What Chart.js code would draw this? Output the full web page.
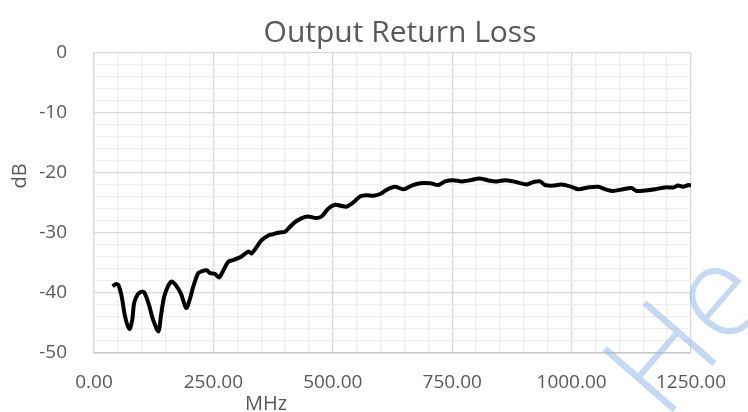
<!DOCTYPE html>
<html>
<head>
<meta charset="utf-8">
<title>Output Return Loss</title>
<script src="https://cdn.jsdelivr.net/npm/chart.js@4.4.1/dist/chart.umd.min.js"></script>
<style>
  html, body { margin: 0; padding: 0; background: #ffffff; }
  #chartBox { width: 748px; height: 412px; }
</style>
</head>
<body>
<div id="chartBox"><canvas id="rlChart" width="748" height="412"></canvas></div>
<script>
'use strict';

let chartTitle = 'Output Return Loss';
let xAxisTitle = 'MHz';
let yAxisTitle = 'dB';
let watermarkText = 'He';

let xTickLabels = [0, 250, 500, 750, 1000, 1250];
let yTickLabels = [0, -10, -20, -30, -40, -50];

// frequency points (MHz)
let freqMHz = [39, 46, 51, 58, 65, 74, 80, 84, 91, 98,
  105, 114, 124, 135, 140, 147, 156, 163, 173, 182,
  193, 200, 208, 218, 225, 236, 243, 253, 262, 271,
  281, 292, 309, 323, 330, 351, 365, 375, 383, 389,
  400, 410, 424, 442, 452, 466, 477, 491, 505, 519,
  529, 543, 557, 571, 585, 599, 613, 630, 648, 665,
  683, 704, 721, 735, 752, 770, 787, 808, 829, 843,
  861, 878, 906, 920, 934, 944, 962, 979, 1000, 1014,
  1035, 1056, 1070, 1087, 1108, 1125, 1136, 1154, 1175, 1196,
  1213, 1223, 1233, 1245, 1250];

// return loss (dB) at each frequency
let returnLossDb = [-38.9, -38.5, -38.7, -40.6, -43.9, -46.0, -44.5, -41.7, -40.3, -39.8,
  -39.9, -41.7, -44.5, -46.4, -43.9, -40.6, -38.7, -38.1, -38.9, -40.1,
  -42.5, -41.2, -38.9, -36.7, -36.4, -36.2, -36.7, -36.8, -37.4, -36.2,
  -34.8, -34.5, -33.9, -33.1, -33.4, -31.2, -30.4, -30.2, -30.0, -29.9,
  -29.8, -29.0, -28.0, -27.3, -27.3, -27.5, -27.2, -25.9, -25.3, -25.5,
  -25.6, -24.9, -23.9, -23.7, -23.8, -23.5, -22.8, -22.3, -22.7, -22.1,
  -21.7, -21.7, -22.0, -21.4, -21.2, -21.4, -21.2, -20.9, -21.3, -21.4,
  -21.2, -21.4, -21.9, -21.5, -21.4, -22.0, -22.1, -21.9, -22.3, -22.7,
  -22.4, -22.3, -22.7, -23.0, -22.7, -22.5, -23.0, -22.9, -22.7, -22.4,
  -22.4, -22.1, -22.3, -22.0, -22.1];

const textGrey = '#595959';
const majorGrid = '#d9d9d9';
const minorGrid = '#eeeeee';

Chart.defaults.font.family = "'Open Sans', sans-serif";
Chart.defaults.color = textGrey;

let points = [];
for (let i = 0; i < freqMHz.length; i++) {
  points.push({ x: freqMHz[i], y: returnLossDb[i] });
}

function isMajorX(v) {
  return xTickLabels.indexOf(v) !== -1;
}

function isMajorY(v) {
  return yTickLabels.indexOf(v) !== -1;
}

// title, axis titles and the faint watermark are drawn by hand
const textPlugin = {
  id: 'textPlugin',
  afterDraw(chart) {
    const ctx = chart.ctx;
    ctx.save();
    ctx.fillStyle = textGrey;
    ctx.textAlign = 'center';
    ctx.textBaseline = 'alphabetic';

    ctx.font = "30px 'Open Sans'";
    ctx.fillText(chartTitle, 400, 42);

    ctx.font = "20px 'Open Sans'";
    ctx.fillText(xAxisTitle, 266, 410);

    ctx.save();
    ctx.translate(26, 176);
    ctx.rotate(-Math.PI / 2);
    ctx.fillText(yAxisTitle, 0, 0);
    ctx.restore();

    ctx.save();
    ctx.translate(664, 422);
    ctx.rotate(-49 * Math.PI / 180);
    ctx.textAlign = 'left';
    ctx.fillStyle = 'rgba(150, 188, 232, 0.55)';
    ctx.font = "300 130px 'Open Sans'";
    ctx.fillText(watermarkText, 0, 0);
    ctx.restore();

    ctx.restore();
  }
};

let ctx = document.getElementById('rlChart').getContext('2d');
let rlChart = new Chart(ctx, {
  type: 'line',
  data: {
    datasets: [{
      label: chartTitle,
      data: points,
      borderColor: '#000000',
      borderWidth: 4,
      pointRadius: 0,
      tension: 0.3,
      fill: false
    }]
  },
  options: {
    responsive: false,
    animation: false,
    layout: { padding: { top: 53, right: 57, left: 0, bottom: 0 } },
    plugins: {
      legend: { display: false },
      tooltip: { enabled: false },
      title: { display: false }
    },
    scales: {
      x: {
        type: 'linear',
        min: 0,
        max: 1250,
        afterFit(scale) { scale.height = 59; },
        ticks: {
          stepSize: 50,
          autoSkip: false,
          maxRotation: 0,
          padding: 18,
          font: { size: 19 },
          callback: (v) => isMajorX(v) ? v.toFixed(2) : ''
        },
        grid: {
          drawTicks: false,
          lineWidth: 1.3,
          color: (c) => isMajorX(c.tick.value) ? majorGrid : minorGrid
        },
        border: { color: '#c8c8c8', width: 1.5 }
      },
      y: {
        min: -50,
        max: 0,
        afterFit(scale) { scale.width = 94; },
        ticks: {
          stepSize: 2,
          autoSkip: false,
          padding: 27,
          font: { size: 19 },
          callback: (v) => isMajorY(v) ? String(v) : ''
        },
        grid: {
          drawTicks: false,
          lineWidth: 1.3,
          color: (c) => isMajorY(c.tick.value) ? majorGrid : minorGrid
        },
        border: { color: majorGrid, width: 1.3 }
      }
    }
  },
  plugins: [textPlugin]
});
</script>
</body>
</html>
